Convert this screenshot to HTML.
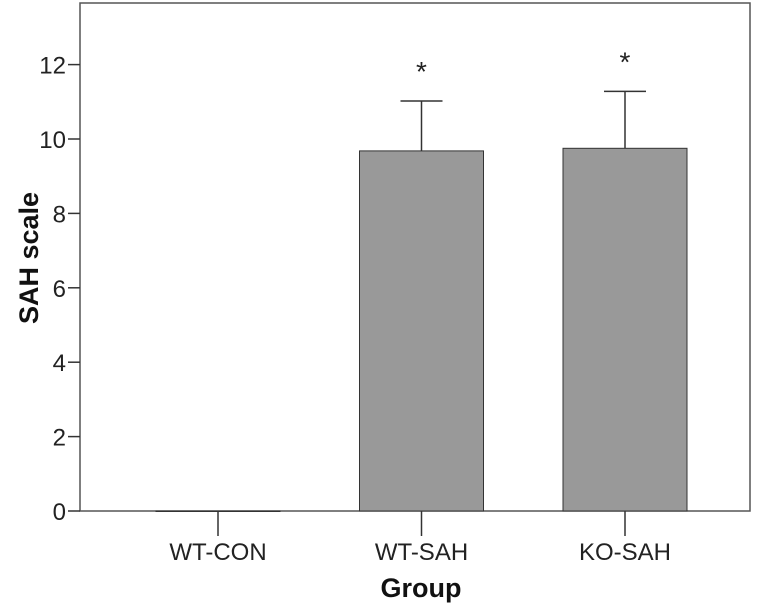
<!DOCTYPE html>
<html><head><meta charset="utf-8"><style>
body{margin:0;background:#fff;}
svg text{font-family:"Liberation Sans",Arial,sans-serif;}
</style></head><body>
<svg id="chart" width="764" height="607" xmlns="http://www.w3.org/2000/svg"></svg>
<script>
const categories=["WT-CON","WT-SAH","KO-SAH"];
const means=[0,9.68,9.75];
const errors=[0,1.34,1.53];
const signif=[false,true,true];
const yTicks=[0,2,4,6,8,10,12];
const svg=document.getElementById('chart');
const NS="http://www.w3.org/2000/svg";
const L=80,R=750,T=3,B=511;
const y=v=>B-(v)*(B-139)/10;
const xc=i=>218+i*203.5;
const bw=124;
function mk(t,a,name){const e=document.createElementNS(NS,t);for(const k in a)e.setAttribute(k,a[k]);


svg.appendChild(e);return e;}
mk('rect',{x:L,y:T,width:R-L,height:B-T,fill:'#fff',stroke:'#555','stroke-width':1.5},'plot-frame');
yTicks.forEach(v=>{
 mk('line',{x1:L-12,x2:L,y1:y(v),y2:y(v),stroke:'#333','stroke-width':1.5},'y-tick-'+v);
 const t=mk('text',{x:L-14,y:y(v)+9,'text-anchor':'end','font-size':24,fill:'#222'},'y-tick-label-'+v);t.textContent=v;
});
categories.forEach((c,i)=>{
 const cx=xc(i);
 mk('rect',{x:cx-bw/2,y:y(means[i]),width:bw,height:Math.max(B-y(means[i]),0.5),fill:'#999',stroke:'#333','stroke-width':1},'bar-'+c.toLowerCase());
 if(errors[i]>0){
  mk('line',{x1:cx,x2:cx,y1:y(means[i]),y2:y(means[i]+errors[i]),stroke:'#333','stroke-width':1.5},'error-bar-'+c.toLowerCase());
  mk('line',{x1:cx-21,x2:cx+21,y1:y(means[i]+errors[i]),y2:y(means[i]+errors[i]),stroke:'#333','stroke-width':1.5},'error-cap-'+c.toLowerCase());
 }
 if(signif[i]){const s=mk('text',{x:cx,y:y(means[i]+errors[i])-20,'text-anchor':'middle','font-size':28,fill:'#222'},'significance-star-'+c.toLowerCase());s.textContent='*';}
 mk('line',{x1:cx,x2:cx,y1:B,y2:B+25,stroke:'#333','stroke-width':1.5},'x-tick-'+c.toLowerCase());
 const t=mk('text',{x:cx,y:B+49,'text-anchor':'middle','font-size':24,fill:'#222'},'x-tick-label-'+c.toLowerCase());t.textContent=c;
});
const xt=mk('text',{x:421,y:597,'text-anchor':'middle','font-size':27,'font-weight':'bold',fill:'#111'},'x-axis-title');xt.textContent='Group';
const yt=mk('text',{x:0,y:0,'text-anchor':'middle','font-size':27,'font-weight':'bold',fill:'#111',transform:'translate(38,258) rotate(-90)'},'y-axis-title');yt.textContent='SAH scale';
</script>
</body></html>
